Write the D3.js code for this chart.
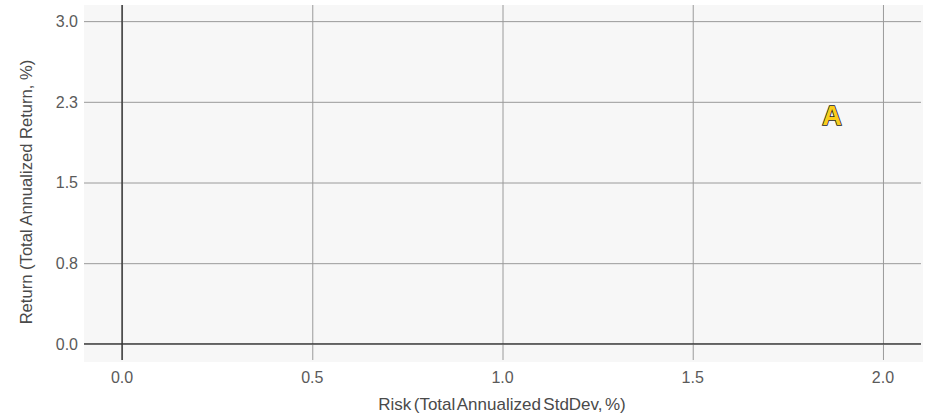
<!DOCTYPE html>
<html>
<head>
<meta charset="utf-8">
<script src="https://cdn.jsdelivr.net/npm/d3@7"></script>
<style>
  html, body { margin: 0; padding: 0; background: #ffffff; }
  svg { display: block; font-family: "Liberation Sans", Arial, sans-serif; }
</style>
</head>
<body>
<svg id="chart" width="934" height="420"></svg>
<script>
// ---- data ----
const pointLabels = ["A"];
const riskValues = [1.866];
const returnValues = [2.126];
const xTickValues = [0, 0.5, 1.0, 1.5, 2.0];
const xTickLabels = ["0.0", "0.5", "1.0", "1.5", "2.0"];
const yTickValues = [0, 0.75, 1.5, 2.25, 3.0];
const yTickLabels = ["0.0", "0.8", "1.5", "2.3", "3.0"];
const xTitle = "Risk (Total Annualized StdDev, %)";
const yTitle = "Return (Total Annualized Return, %)";

// ---- layout ----
const svg = d3.select("#chart");
const plotLeft = 84, plotRight = 921, plotTop = 5, plotBottom = 360;

const x = d3.scaleLinear().domain([-0.1, 2.1]).range([plotLeft, plotRight]);
const y = d3.scaleLinear().domain([-0.15, 3.15]).range([plotBottom, plotTop]);

// background
svg.append("rect")
  .attr("x", plotLeft).attr("y", plotTop)
  .attr("width", 923 - plotLeft).attr("height", 362 - plotTop)
  .attr("fill", "#f7f7f7");

// gridlines via axes
const gx = svg.append("g")
  .attr("transform", `translate(0,${plotBottom})`)
  .call(d3.axisBottom(x).tickValues(xTickValues).tickSize(-(plotBottom - plotTop)).tickFormat(""));
gx.select(".domain").remove();
gx.selectAll(".tick line").attr("stroke", "#9a9a9a").attr("stroke-width", 1);

const gy = svg.append("g")
  .attr("transform", `translate(${plotLeft},0)`)
  .call(d3.axisLeft(y).tickValues(yTickValues).tickSize(-(plotRight - plotLeft)).tickFormat(""));
gy.select(".domain").remove();
gy.selectAll(".tick line").attr("stroke", "#9a9a9a").attr("stroke-width", 1);

// zero lines
svg.append("line")
  .attr("x1", plotLeft).attr("x2", plotRight)
  .attr("y1", y(0)).attr("y2", y(0))
  .attr("stroke", "#333").attr("stroke-width", 1.4);
svg.append("line")
  .attr("x1", x(0)).attr("x2", x(0))
  .attr("y1", plotTop).attr("y2", plotBottom)
  .attr("stroke", "#333").attr("stroke-width", 1.4);

// tick labels
svg.append("g").selectAll("text")
  .data(xTickValues)
  .join("text")
  .attr("x", d => x(d))
  .attr("y", 383)
  .attr("text-anchor", "middle")
  .attr("font-size", 16)
  .attr("fill", "#5a5a5a")
  .text((d, i) => xTickLabels[i]);

svg.append("g").selectAll("text")
  .data(yTickValues)
  .join("text")
  .attr("x", 78)
  .attr("y", d => y(d))
  .attr("dy", "0.36em")
  .attr("text-anchor", "end")
  .attr("font-size", 16)
  .attr("fill", "#5a5a5a")
  .text((d, i) => yTickLabels[i]);

// axis titles
svg.append("text")
  .attr("x", 502)
  .attr("y", 410)
  .attr("text-anchor", "middle")
  .attr("font-size", 17)
  .attr("word-spacing", -2.3)
  .attr("fill", "#4a4a4a")
  .text(xTitle);

svg.append("text")
  .attr("transform", `translate(32,${192}) rotate(-90)`)
  .attr("text-anchor", "middle")
  .attr("font-size", 16.6)
  .attr("fill", "#4a4a4a")
  .text(yTitle);

// points as letters
svg.append("g").selectAll("text")
  .data(pointLabels)
  .join("text")
  .attr("x", (d, i) => x(riskValues[i]))
  .attr("y", (d, i) => y(returnValues[i]))
  .attr("dy", "0.36em")
  .attr("text-anchor", "middle")
  .attr("font-size", 27)
  .attr("font-weight", "bold")
  .attr("fill", "#f9cd1b")
  .attr("stroke", "#222")
  .attr("stroke-width", 1.6)
  .attr("paint-order", "stroke")
  .text(d => d);
</script>
</body>
</html>
